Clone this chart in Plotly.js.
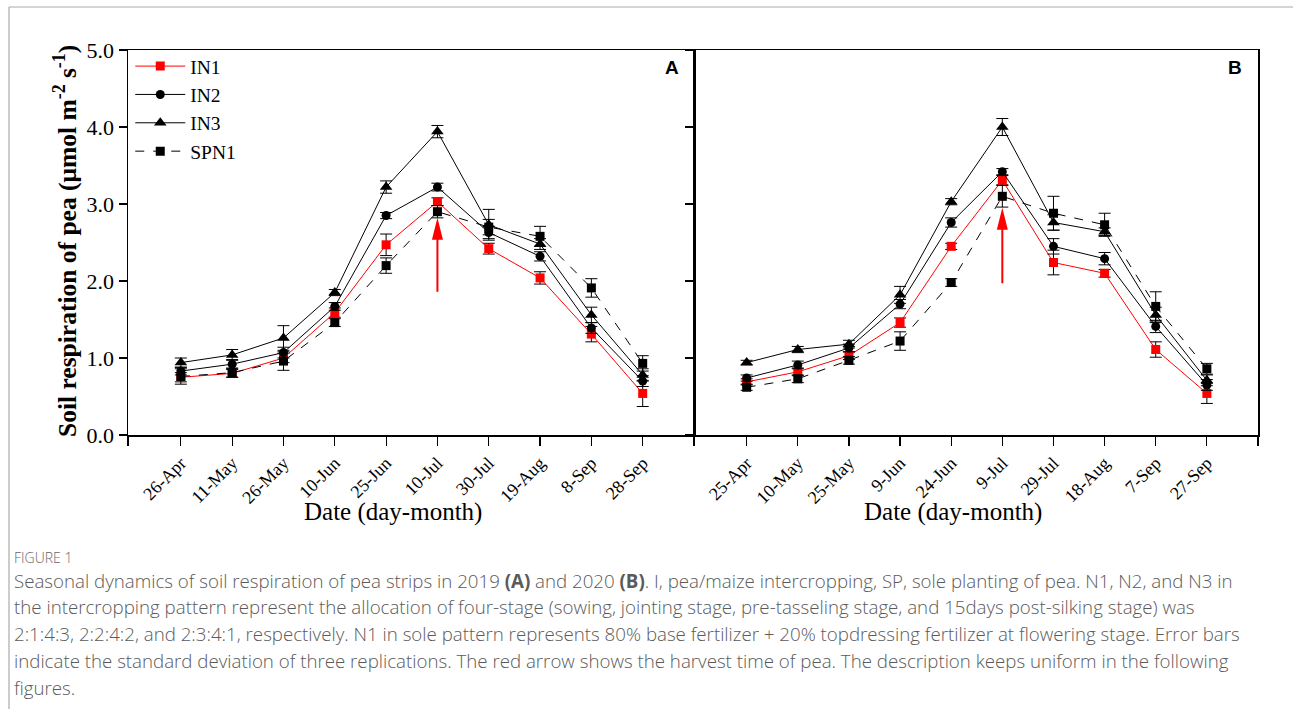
<!DOCTYPE html>
<html>
<head>
<meta charset="utf-8">
<script src="https://cdn.plot.ly/plotly-3.0.1.min.js"></script>
<style>
html,body{margin:0;padding:0;background:#fff;}
#chart{width:1293px;height:709px;}
</style>
</head>
<body>
<div id="chart"></div>
<script>
// ---- data ----
var datesA = ['26-Apr','11-May','26-May','10-Jun','25-Jun','10-Jul','30-Jul','19-Aug','8-Sep','28-Sep'];
var datesB = ['25-Apr','10-May','25-May','9-Jun','24-Jun','9-Jul','29-Jul','18-Aug','7-Sep','27-Sep'];

var seriesNames = ['IN1','IN2','IN3','SPN1'];

var A_IN1  = [0.75, 0.80, 1.00, 1.59, 2.47, 3.03, 2.42, 2.04, 1.31, 0.54];
var A_IN1_sd  = [0.06, 0.05, 0.06, 0.06, 0.14, 0.05, 0.07, 0.08, 0.10, 0.17];
var A_IN2  = [0.83, 0.92, 1.07, 1.67, 2.85, 3.22, 2.63, 2.32, 1.39, 0.70];
var A_IN2_sd  = [0.05, 0.06, 0.07, 0.05, 0.04, 0.05, 0.08, 0.06, 0.07, 0.07];
var A_IN3  = [0.94, 1.04, 1.26, 1.85, 3.22, 3.94, 2.73, 2.48, 1.56, 0.78];
var A_IN3_sd  = [0.06, 0.07, 0.16, 0.04, 0.08, 0.08, 0.20, 0.07, 0.10, 0.08];
var A_SPN1 = [0.76, 0.81, 0.96, 1.46, 2.20, 2.90, 2.70, 2.58, 1.91, 0.93];
var A_SPN1_sd = [0.10, 0.06, 0.12, 0.05, 0.10, 0.08, 0.10, 0.13, 0.12, 0.10];

var B_IN1  = [0.69, 0.82, 1.03, 1.46, 2.45, 3.31, 2.24, 2.10, 1.11, 0.54];
var B_IN1_sd  = [0.04, 0.05, 0.05, 0.06, 0.04, 0.06, 0.16, 0.05, 0.10, 0.13];
var B_IN2  = [0.74, 0.91, 1.13, 1.70, 2.76, 3.42, 2.45, 2.29, 1.41, 0.65];
var B_IN2_sd  = [0.04, 0.05, 0.05, 0.06, 0.06, 0.04, 0.10, 0.08, 0.08, 0.07];
var B_IN3  = [0.94, 1.11, 1.18, 1.82, 3.03, 4.00, 2.76, 2.64, 1.56, 0.71];
var B_IN3_sd  = [0.03, 0.04, 0.05, 0.11, 0.04, 0.11, 0.10, 0.05, 0.10, 0.07];
var B_SPN1 = [0.62, 0.73, 0.97, 1.22, 1.98, 3.10, 2.88, 2.73, 1.67, 0.86];
var B_SPN1_sd = [0.04, 0.05, 0.05, 0.12, 0.05, 0.14, 0.22, 0.15, 0.19, 0.07];

// harvest arrows: category index, tip value, tail value
var arrowA = {idx: 5, tip: 2.82, tail: 1.86};
var arrowB = {idx: 5, tip: 2.95, tail: 1.97};

var yTicks = [0, 1, 2, 3, 4, 5];

var captionHead = 'FIGURE 1';
var captionLines = [
  'Seasonal dynamics of soil respiration of pea strips in 2019 <b>(A)</b> and 2020 <b>(B)</b>. I, pea/maize intercropping, SP, sole planting of pea. N1, N2, and N3 in',
  'the intercropping pattern represent the allocation of four-stage (sowing, jointing stage, pre-tasseling stage, and 15days post-silking stage) was',
  '2:1:4:3, 2:2:4:2, and 2:3:4:1, respectively. N1 in sole pattern represents 80% base fertilizer + 20% topdressing fertilizer at flowering stage. Error bars',
  'indicate the standard deviation of three replications. The red arrow shows the harvest time of pea. The description keeps uniform in the following',
  'figures.'
];

// ---- styles ----
var SERIF = 'Liberation Serif, Times New Roman, serif';
var styles = {
  IN1:  {color:'#ff0000', symbol:'square',          size:9,  dash:'solid'},
  IN2:  {color:'#000000', symbol:'circle',          size:9,  dash:'solid'},
  IN3:  {color:'#000000', symbol:'triangle-up',     size:11, dash:'solid'},
  SPN1: {color:'#000000', symbol:'square',          size:9,  dash:'dash'}
};

function idx(arr){ return arr.map(function(_, i){ return i; }); }

function mk(name, y, sd, xa, ya, show){
  var s = styles[name];
  return {
    type:'scatter', mode:'lines+markers', name:name,
    x: idx(y), y: y, xaxis: xa, yaxis: ya, showlegend: show,
    line:{color:s.color, width:1, dash:s.dash},
    marker:{color:s.color, symbol:s.symbol, size:s.size, line:{width:0}},
    error_y:{type:'data', array:sd, visible:true, color:'#000', thickness:1, width:6}
  };
}

var data = [
  mk('IN1',  A_IN1,  A_IN1_sd,  'x','y', true),
  mk('IN2',  A_IN2,  A_IN2_sd,  'x','y', true),
  mk('IN3',  A_IN3,  A_IN3_sd,  'x','y', true),
  mk('SPN1', A_SPN1, A_SPN1_sd, 'x','y', true),
  mk('IN1',  B_IN1,  B_IN1_sd,  'x2','y2', false),
  mk('IN2',  B_IN2,  B_IN2_sd,  'x2','y2', false),
  mk('IN3',  B_IN3,  B_IN3_sd,  'x2','y2', false),
  mk('SPN1', B_SPN1, B_SPN1_sd, 'x2','y2', false)
];

var xRange = [-1.03, 10.0];
var xCommon = {
  range:xRange, tickmode:'array', tickangle:-45,
  ticks:'outside', ticklen:9, tickwidth:1.2, tickcolor:'#000',
  minor:{tickmode:'array', tickvals:xRange, ticks:'outside', ticklen:9, tickwidth:1.2, tickcolor:'#000', showgrid:false},
  showline:true, linecolor:'#000', linewidth:1.5, mirror:true,
  showgrid:false, zeroline:false,
  tickfont:{family:SERIF, size:18, color:'#000'}
};
var yCommon = {
  range:[0,5], tickmode:'array', tickvals:yTicks, tickformat:'.1f',
  ticks:'outside', ticklen:8, tickwidth:1.2, tickcolor:'#000',
  showline:true, linecolor:'#000', linewidth:1.5, mirror:true,
  showgrid:false, zeroline:false,
  tickfont:{family:SERIF, size:22, color:'#000'}
};

var L = 128, R = 1258, T = 50, B = 435, W = 1293, H = 709;
var pw = R - L, ph = B - T;
function px(xp){ return (xp - L)/pw; }
function py(yp){ return (B - yp)/ph; }
var split = px(694);

var layout = {
  width:W, height:H,
  margin:{l:L, r:W-R, t:T, b:H-B, pad:0},
  paper_bgcolor:'#fff', plot_bgcolor:'#fff',
  showlegend:true,
  legend:{x:0.002, y:1.008, xanchor:'left', yanchor:'top', bgcolor:'rgba(0,0,0,0)',
          font:{family:SERIF, size:19.5, color:'#000'}, tracegroupgap:0, itemwidth:50},
  xaxis: Object.assign({}, xCommon, {domain:[0, split], anchor:'y', tickvals:idx(datesA), ticktext:datesA}),
  yaxis: Object.assign({}, yCommon, {domain:[0,1], anchor:'x'}),
  xaxis2: Object.assign({}, xCommon, {domain:[split, 1], anchor:'y2', tickvals:idx(datesB), ticktext:datesB}),
  yaxis2: Object.assign({}, yCommon, {domain:[0,1], anchor:'x2', showticklabels:false}),
  annotations:[],
  shapes:[]
};

// axis titles
layout.annotations.push({xref:'paper', yref:'paper', x:px(393), y:py(512), text:'Date (day-month)', showarrow:false,
  font:{family:SERIF, size:25, color:'#000'}, xanchor:'center', yanchor:'middle'});
layout.annotations.push({xref:'paper', yref:'paper', x:px(953), y:py(512), text:'Date (day-month)', showarrow:false,
  font:{family:SERIF, size:25, color:'#000'}, xanchor:'center', yanchor:'middle'});
layout.annotations.push({xref:'paper', yref:'paper', x:px(65), y:py(241), textangle:-90,
  text:'<b>Soil respiration of pea (\u03bcmol m<sup>-2</sup> s<sup>-1</sup>)</b>', showarrow:false,
  font:{family:SERIF, size:25.5, color:'#000'}, xanchor:'center', yanchor:'middle'});
// panel letters
layout.annotations.push({xref:'paper', yref:'paper', x:px(681), y:py(67), text:'<b>A</b>', showarrow:false,
  font:{family:'Liberation Sans, Arial, sans-serif', size:19, color:'#000'}, xanchor:'right', yanchor:'middle'});
layout.annotations.push({xref:'paper', yref:'paper', x:px(1244), y:py(67), text:'<b>B</b>', showarrow:false,
  font:{family:'Liberation Sans, Arial, sans-serif', size:19, color:'#000'}, xanchor:'right', yanchor:'middle'});

// caption
var CAP = 'Open Sans, Noto Sans, sans-serif';
layout.annotations.push({xref:'paper', yref:'paper', x:px(12), y:py(557), text:captionHead, showarrow:false,
  font:{family:CAP, size:14, color:'#666', weight:300}, xanchor:'left', yanchor:'middle'});
captionLines.forEach(function(t, i){
  layout.annotations.push({xref:'paper', yref:'paper', x:px(12), y:py(580 + i*26.8), text:t, showarrow:false,
    font:{family:CAP, size:18.7, color:'#5a5a5a', weight:300}, xanchor:'left', yanchor:'middle'});
});

// frame lines of the page
layout.shapes.push({type:'line', xref:'paper', yref:'paper', x0:px(9), x1:px(1293), y0:py(7), y1:py(7), line:{color:'#aaa', width:1.2}});
layout.shapes.push({type:'line', xref:'paper', yref:'paper', x0:px(9), x1:px(9), y0:py(7), y1:py(709), line:{color:'#aaa', width:1.2}});

// harvest arrows
[[arrowA,'x','y'],[arrowB,'x2','y2']].forEach(function(a){
  var ar = a[0];
  layout.shapes.push({type:'line', xref:a[1], yref:a[2], x0:ar.idx, x1:ar.idx, y0:ar.tail, y1:ar.tip - 0.1,
    line:{color:'#ff0000', width:2}});
  layout.shapes.push({type:'path', xref:a[1], yref:a[2], xsizemode:'pixel', ysizemode:'pixel',
    xanchor:ar.idx, yanchor:ar.tip, path:'M0,0 L-5.5,-22 L5.5,-22 Z',
    fillcolor:'#ff0000', line:{color:'#ff0000', width:0}});
});

Plotly.newPlot('chart', data, layout, {displayModeBar:false, staticPlot:true});
</script>
</body>
</html>
